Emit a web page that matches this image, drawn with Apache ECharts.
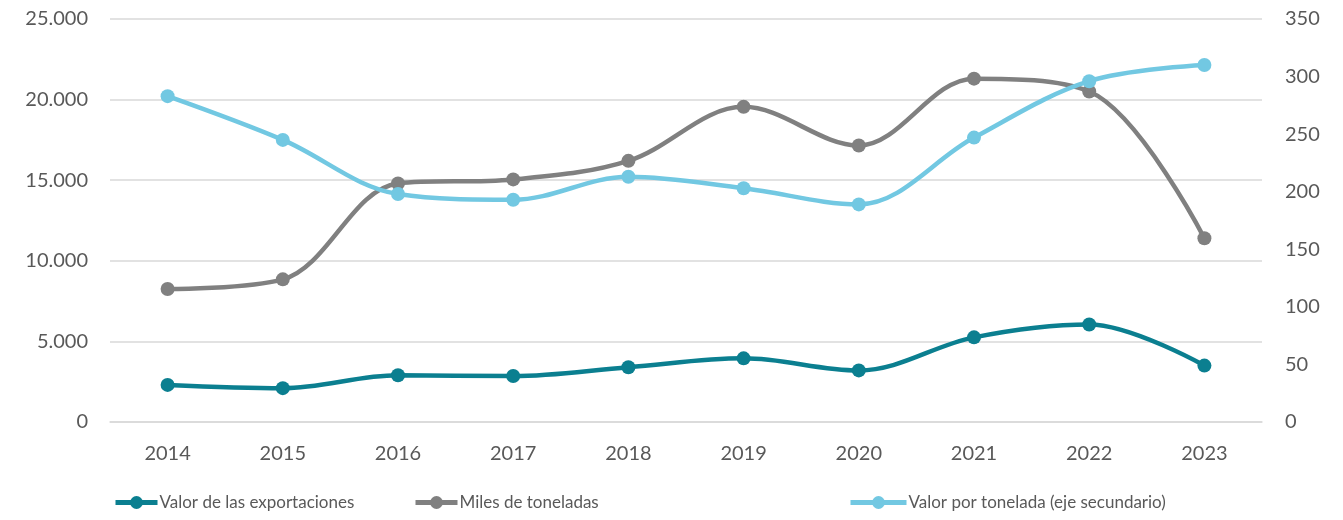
<!DOCTYPE html>
<html>
<head>
<meta charset="utf-8">
<script src="https://cdn.jsdelivr.net/npm/echarts@6/dist/echarts.min.js"></script>
<style>
  html, body { margin: 0; padding: 0; background: #fff; }
  #chart { width: 1343px; height: 520px; }
</style>
</head>
<body>
<div id="chart"></div>
<script>
var years = ['2014', '2015', '2016', '2017', '2018', '2019', '2020', '2021', '2022', '2023'];
var valorExport = [2300, 2100, 2900, 2850, 3400, 3950, 3200, 5250, 6050, 3500];
var milesTon = [8250, 8850, 14800, 15050, 16200, 19550, 17150, 21300, 20500, 11400];
var valorPorTon = [283, 245, 198, 193, 213, 203, 189, 247, 296, 310];

var names = ['Valor de las exportaciones', 'Miles de toneladas', 'Valor por tonelada (eje secundario)'];
var colors = ['#0b7f90', '#808080', '#72c8e2'];
var font = 'Lato, "Open Sans", sans-serif';

function fmt(v) {
  return String(v).replace(/\B(?=(\d{3})+(?!\d))/g, '.');
}

function legendAt(name, left, w) {
  return {
    data: [name],
    left: left,
    top: 494,
    padding: 0,
    itemWidth: w,
    itemHeight: 16,
    itemGap: 0,
    lineStyle: { width: 5 },
    textStyle: { color: '#595959', fontSize: 17, fontFamily: font, padding: [0, 0, 0, -3] }
  };
}

function lineSeries(i, data, axis) {
  return {
    name: names[i],
    type: 'line',
    yAxisIndex: axis,
    data: data,
    smooth: 0.35,
    symbol: 'circle',
    symbolSize: 14,
    lineStyle: { width: 4.5, color: colors[i] },
    itemStyle: { color: colors[i] }
  };
}

var myChart = echarts.init(document.getElementById('chart'));

myChart.setOption({
  animation: false,
  grid: { left: 110, right: 81, top: 19, bottom: 98 },
  legend: [
    legendAt(names[0], 113, 42),
    legendAt(names[1], 413, 42),
    legendAt(names[2], 848, 56)
  ],
  xAxis: {
    type: 'category',
    data: years,
    boundaryGap: true,
    axisLine: { lineStyle: { color: '#d9d9d9', width: 1.5 } },
    axisTick: { show: false },
    axisLabel: { color: '#595959', fontSize: 20, fontFamily: font, margin: 22 }
  },
  yAxis: [
    {
      type: 'value',
      min: 0, max: 25000, interval: 5000,
      axisLine: { show: false },
      axisTick: { show: false },
      splitLine: { lineStyle: { color: '#d9d9d9', width: 1.5 } },
      axisLabel: { color: '#595959', fontSize: 20, fontFamily: font, margin: 22, formatter: fmt }
    },
    {
      type: 'value',
      min: 0, max: 350, interval: 50,
      axisLine: { show: false },
      axisTick: { show: false },
      splitLine: { show: false },
      axisLabel: { color: '#595959', fontSize: 20, fontFamily: font, margin: 23 }
    }
  ],
  series: [
    lineSeries(0, valorExport, 0),
    lineSeries(1, milesTon, 0),
    lineSeries(2, valorPorTon, 1)
  ]
});
</script>
</body>
</html>
